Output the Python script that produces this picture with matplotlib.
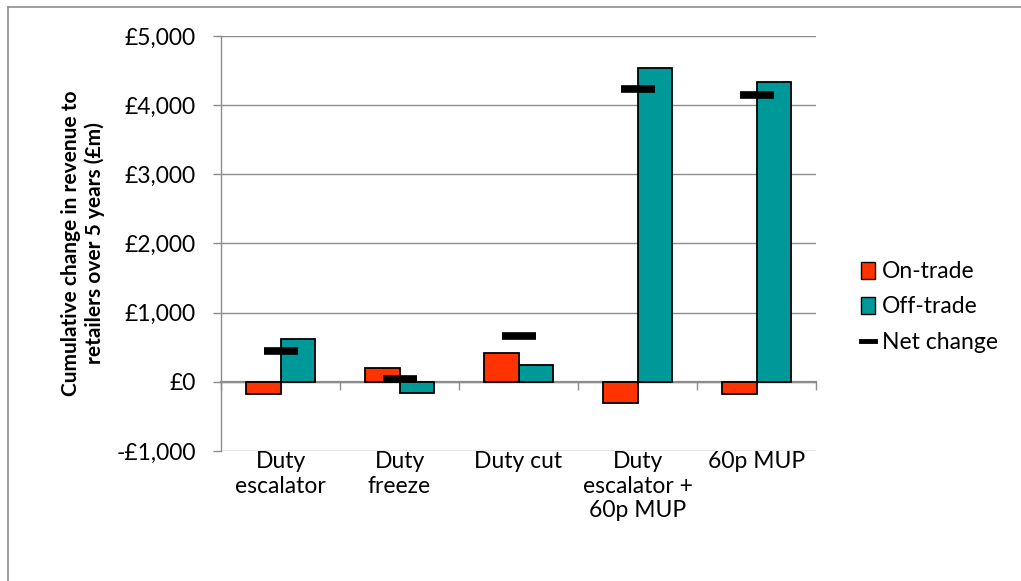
import numpy as np
import matplotlib.pyplot as plt
from matplotlib.patches import Patch
from matplotlib.lines import Line2D
from matplotlib.ticker import FuncFormatter
import matplotlib.transforms as mtransforms

plt.rcParams['font.family'] = ['Lato', 'DejaVu Sans']

# 5년 누적 소매업 매출 변화 (£m)
scenarios = ['Duty\nescalator', 'Duty\nfreeze', 'Duty cut', 'Duty\nescalator +\n60p MUP', '60p MUP']
on_trade = [-175, 200, 418, -305, -180]
off_trade = [625, -155, 240, 4540, 4330]
net_change = [450, 45, 658, 4235, 4150]

fig = plt.figure(figsize=(10.21, 5.81), dpi=100)
ax = fig.add_axes([221/1021, 1-451/581, 595/1021, 415/581])

x = np.arange(len(scenarios))
w = 0.286
ax.bar(x - w/2, on_trade, w, color='#FF3300', edgecolor='black', linewidth=1.3, zorder=3)
ax.bar(x + w/2, off_trade, w, color='#009999', edgecolor='black', linewidth=1.3, zorder=3)
ax.plot(x, net_change, linestyle='none', marker='_', color='black',
        markersize=25, markeredgewidth=5.5, zorder=4)

ax.set_xlim(-0.5, len(scenarios) - 0.5)
ax.set_ylim(-1000, 5000)
ax.set_yticks(np.arange(-1000, 5001, 1000))
ax.yaxis.set_major_formatter(FuncFormatter(lambda v, p: f'£{v:,.0f}' if v >= 0 else f'-£{-v:,.0f}'))
ax.grid(axis='y', color='#8c8c8c', linewidth=1.0, zorder=0)

for s in ['top', 'right']:
    ax.spines[s].set_visible(False)
ax.spines['left'].set_color('#8c8c8c')
ax.spines['left'].set_linewidth(1.0)
ax.spines['bottom'].set_position(('data', 0))
ax.spines['bottom'].set_color('#8c8c8c')
ax.spines['bottom'].set_linewidth(1.6)
ax.spines['bottom'].set_zorder(2)

ax.set_xticks(np.arange(-0.5, len(scenarios), 1.0))
ax.tick_params(axis='x', direction='out', length=6, width=1.0, color='#8c8c8c', labelbottom=False)
ax.tick_params(axis='y', direction='out', length=6, width=1.0, color='#8c8c8c', labelsize=16.5, pad=12)

# 범주 이름은 축 아래쪽에 따로 표시
trans = mtransforms.blended_transform_factory(ax.transData, ax.transAxes)
for xi, name in zip(x, scenarios):
    ax.text(xi, 0.0, name, transform=trans, ha='center', va='top', fontsize=16.5, linespacing=1.22)

ax.set_ylabel('Cumulative change in revenue to\nretailers over 5 years (£m)', fontsize=15,
              fontweight='bold', labelpad=8, linespacing=1.25)

handles = [Patch(facecolor='#FF3300', edgecolor='black', label='On-trade'),
           Patch(facecolor='#009999', edgecolor='black', label='Off-trade'),
           Line2D([0], [0], color='black', linewidth=3.5, label='Net change')]
fig.legend(handles=handles, loc='center left', bbox_to_anchor=(0.823, 1-307/581), frameon=False,
           fontsize=16.5, handlelength=0.6, handleheight=0.75, handletextpad=0.3, labelspacing=0.62)

# 바깥 테두리 (위, 왼쪽)
fig.add_artist(Line2D([8/1021, 1], [1-6.5/581, 1-6.5/581], color='#8c8c8c', linewidth=1.2))
fig.add_artist(Line2D([8/1021, 8/1021], [0, 1-6.5/581], color='#8c8c8c', linewidth=1.2))

fig.savefig('out.png', dpi=100)
